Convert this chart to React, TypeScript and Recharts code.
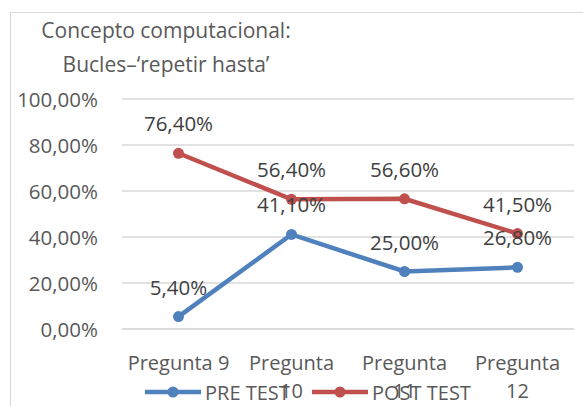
import { LineChart, Line, XAxis, YAxis, CartesianGrid, LabelList } from 'recharts';

const categories = ['Pregunta 9', 'Pregunta 10', 'Pregunta 11', 'Pregunta 12'];
const preTest = [0.054, 0.411, 0.25, 0.268];
const postTest = [0.764, 0.564, 0.566, 0.415];
const yTicks = [0, 0.2, 0.4, 0.6, 0.8, 1];
const titleLines = ['Concepto computacional:', 'Bucles\u2013\u2018repetir hasta\u2019'];

const FONT = '"Open Sans", "Liberation Sans", sans-serif';
const BLUE = '#4f81bd';
const RED = '#c0504d';

const data = categories.map((name, i) => ({ name, pre: preTest[i], post: postTest[i] }));

const pct = (v: number) => `${(v * 100).toFixed(2).replace('.', ',')}%`;

function CategoryTick(props: any) {
  const { x, y, payload } = props;
  const text: string = payload.value;
  const lines = text.length > 10 ? text.split(' ') : [text];
  return (
    <g>
      {lines.map((l, i) => (
        <text
          key={i}
          x={x}
          y={y + 25 + i * 28}
          textAnchor="middle"
          dominantBaseline="central"
          style={{ fontSize: 20, fontFamily: FONT }}
          fill="#595959"
        >
          {l}
        </text>
      ))}
    </g>
  );
}

function ValueTick(props: any) {
  const { x, y, payload } = props;
  return (
    <text x={x} y={y} textAnchor="end" dominantBaseline="central" fill="#595959" style={{ fontSize: 20.5, fontFamily: FONT }}>
      {pct(payload.value)}
    </text>
  );
}

function PointLabel(props: any) {
  const { x, y, value } = props;
  return (
    <text
      x={x}
      y={y - 30}
      textAnchor="middle"
      dominantBaseline="central"
      fill="#404040"
      style={{ fontSize: 20.5, fontFamily: FONT }}
    >
      {pct(value)}
    </text>
  );
}

function LegendItem({ color, label, left }: { color: string; label: string; left: number }) {
  return (
    <div style={{ position: 'absolute', left, top: 378, height: 28, display: 'flex', alignItems: 'center' }}>
      <svg width={56} height={14}>
        <line x1={0} y1={7} x2={56} y2={7} stroke={color} strokeWidth={4.5} />
        <circle cx={28} cy={7} r={5.5} fill={color} />
      </svg>
      <span style={{ marginLeft: 4, fontSize: 20, color: '#595959', fontFamily: FONT, whiteSpace: 'nowrap' }}>
        {label}
      </span>
    </div>
  );
}

export default function App() {
  return (
    <div style={{ position: 'absolute', left: 0, top: 0, width: 583, height: 406, background: '#fff', overflow: 'hidden' }}>
      <div
        style={{
          position: 'absolute',
          left: 10,
          top: 12,
          width: 600,
          height: 420,
          borderLeft: '1.5px solid #d9d9d9',
          borderTop: '1.5px solid #d9d9d9',
        }}
      />
      <div
        style={{
          position: 'absolute',
          left: 16,
          top: 13,
          width: 300,
          textAlign: 'center',
          fontFamily: FONT,
          fontSize: 21,
          lineHeight: '34px',
          color: '#595959',
        }}
      >
        {titleLines.map((t) => (
          <div key={t}>{t}</div>
        ))}
      </div>
      <div style={{ position: 'absolute', left: 0, top: 0 }}>
        <LineChart width={583} height={406} data={data} margin={{ top: 99, right: 9, left: 0, bottom: 0 }}>
          <CartesianGrid vertical={false} stroke="#d9d9d9" strokeWidth={1.5} />
          <XAxis
            dataKey="name"
            height={77}
            padding={{ left: 56.5, right: 56.5 }}
            axisLine={{ stroke: '#d9d9d9', strokeWidth: 1.5 }}
            tickLine={false}
            tick={<CategoryTick />}
            interval={0}
          />
          <YAxis
            width={122}
            domain={[0, 1]}
            ticks={yTicks}
            axisLine={false}
            tickLine={false}
            tickSize={0}
            tickMargin={24}
            tick={<ValueTick />}
          />
          <Line
            dataKey="pre"
            stroke={BLUE}
            strokeWidth={4.5}
            dot={{ r: 5.5, fill: BLUE, stroke: BLUE, strokeWidth: 0 }}
            isAnimationActive={false}
          >
            <LabelList dataKey="pre" content={<PointLabel />} />
          </Line>
          <Line
            dataKey="post"
            stroke={RED}
            strokeWidth={4.5}
            dot={{ r: 5.5, fill: RED, stroke: RED, strokeWidth: 0 }}
            isAnimationActive={false}
          >
            <LabelList dataKey="post" content={<PointLabel />} />
          </Line>
        </LineChart>
      </div>
      <LegendItem color={BLUE} label="PRE TEST" left={145} />
      <LegendItem color={RED} label="POST TEST" left={312} />
    </div>
  );
}
